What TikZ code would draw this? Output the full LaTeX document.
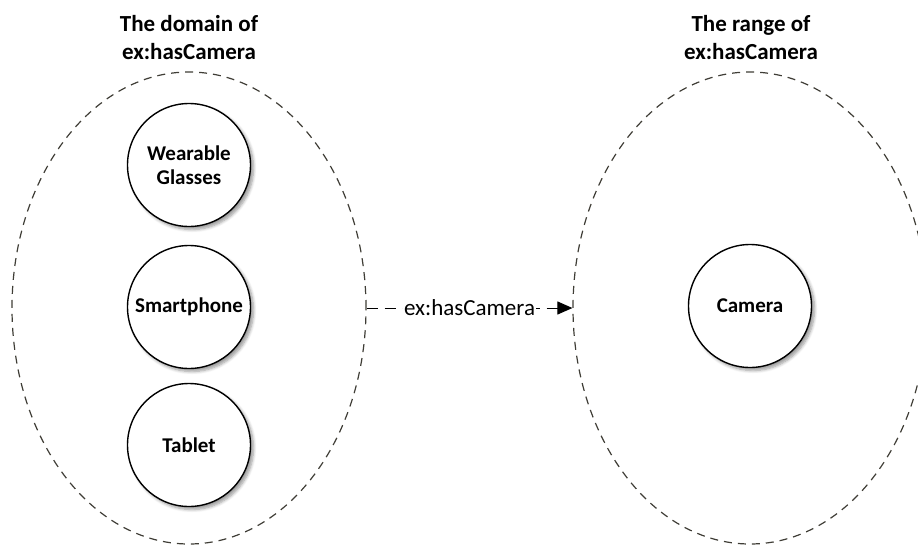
\documentclass[tikz,border=0pt]{standalone}
\usepackage{fontspec}
\setmainfont{Carlito}
\usetikzlibrary{shapes.geometric,shadows.blur,arrows.meta}
\definecolor{dashgray}{HTML}{3F3D36}
\begin{document}
\begin{tikzpicture}[x=1pt,y=-1pt,
  region/.style={ellipse, draw=dashgray, line width=1.2pt, dash pattern=on 8pt off 6pt,
    minimum width=354pt, minimum height=472pt, inner sep=0pt},
  thing/.style={circle, draw=black, line width=1.4pt, fill=white, minimum size=123pt,
    inner sep=0pt, font=\fontsize{21}{24}\selectfont\bfseries, align=center,
    blur shadow={shadow xshift=3pt, shadow yshift=-3pt, shadow blur steps=6, shadow blur radius=3pt}},
  heading/.style={font=\fontsize{23}{28}\selectfont\bfseries, align=center, inner sep=0pt},
  link/.style={draw=black, line width=1pt, dash pattern=on 11pt off 7pt,
    -{Triangle[length=15pt,width=13pt]}},
  linklabel/.style={fill=white, inner sep=1pt, font=\fontsize{23}{28}\selectfont}]
\useasboundingbox (0,0) rectangle (918,544);
\clip (0,0) rectangle (918,544);

\node[heading] (domtitle) at (189,38) {The domain of\\ex:hasCamera};
\node[heading] (rngtitle) at (751,38) {The range of\\ex:hasCamera};

\node[region] (domain) at (189,308) {};
\node[region] (range) at (750,308) {};

\node[thing] (glasses) at (189,165) {Wearable\\Glasses};
\node[thing] (phone) at (189,307) {Smartphone};
\node[thing] (tablet) at (189,445) {Tablet};
\node[thing] (camera) at (750,306) {Camera};

\draw[link] (domain.east) -- node[linklabel] (lbl) {ex:hasCamera} (range.west);
\end{tikzpicture}
\end{document}
